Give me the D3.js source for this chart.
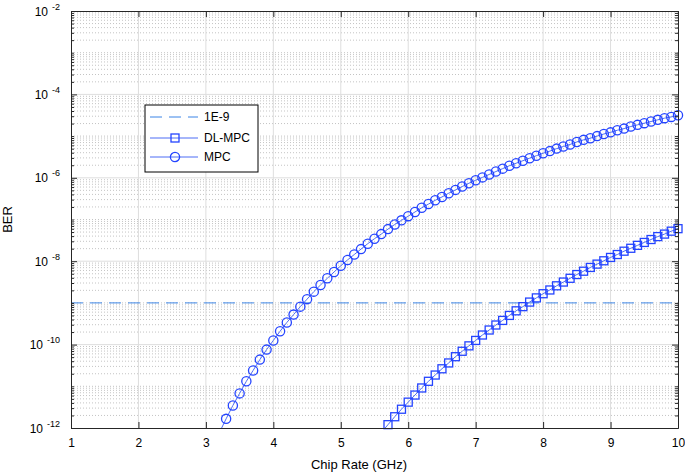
<!DOCTYPE html>
<html>
<head>
<meta charset="utf-8">
<script src="https://cdn.jsdelivr.net/npm/d3@7"></script>
<style>
  html, body { margin: 0; padding: 0; background: #fff; }
  svg { display: block; font-family: "Liberation Sans", Arial, sans-serif; }
</style>
</head>
<body>
<div id="chart"></div>
<script>
// chip rate (GHz) for each curve
const mpcRate = [3.2, 3.3, 3.4, 3.5, 3.6, 3.7, 3.8, 3.9,
  4.0, 4.1, 4.2, 4.3, 4.4, 4.5, 4.6, 4.7, 4.8, 4.9,
  5.0, 5.1, 5.2, 5.3, 5.4, 5.5, 5.6, 5.7, 5.8, 5.9,
  6.0, 6.1, 6.2, 6.3, 6.4, 6.5, 6.6, 6.7, 6.8, 6.9,
  7.0, 7.1, 7.2, 7.3, 7.4, 7.5, 7.6, 7.7, 7.8, 7.9,
  8.0, 8.1, 8.2, 8.3, 8.4, 8.5, 8.6, 8.7, 8.8, 8.9,
  9.0, 9.1, 9.2, 9.3, 9.4, 9.5, 9.6, 9.7, 9.8, 9.9, 10.0];
// log10(BER)
const mpcLogBER = [-12.11, -11.78, -11.46, -11.17, -10.88, -10.62, -10.36, -10.12,
  -9.90, -9.68, -9.47, -9.28, -9.09, -8.91, -8.73, -8.57, -8.41, -8.26,
  -8.11, -7.97, -7.84, -7.71, -7.58, -7.46, -7.35, -7.23, -7.12, -7.02,
  -6.92, -6.82, -6.72, -6.63, -6.54, -6.46, -6.37, -6.29, -6.21, -6.13,
  -6.06, -5.99, -5.92, -5.85, -5.78, -5.71, -5.65, -5.59, -5.53, -5.47,
  -5.41, -5.36, -5.30, -5.25, -5.20, -5.14, -5.09, -5.05, -5.00, -4.95,
  -4.91, -4.86, -4.82, -4.77, -4.73, -4.69, -4.65, -4.61, -4.57, -4.54, -4.50];

const dlRate = [5.6, 5.7, 5.8, 5.9,
  6.0, 6.1, 6.2, 6.3, 6.4, 6.5, 6.6, 6.7, 6.8, 6.9,
  7.0, 7.1, 7.2, 7.3, 7.4, 7.5, 7.6, 7.7, 7.8, 7.9,
  8.0, 8.1, 8.2, 8.3, 8.4, 8.5, 8.6, 8.7, 8.8, 8.9,
  9.0, 9.1, 9.2, 9.3, 9.4, 9.5, 9.6, 9.7, 9.8, 9.9, 10.0];
const dlLogBER = [-12.11, -11.92, -11.73, -11.55,
  -11.38, -11.21, -11.04, -10.88, -10.73, -10.58, -10.44, -10.29, -10.16, -10.03,
  -9.90, -9.77, -9.65, -9.53, -9.42, -9.30, -9.19, -9.09, -8.98, -8.88,
  -8.78, -8.69, -8.59, -8.50, -8.41, -8.32, -8.24, -8.15, -8.07, -7.99,
  -7.91, -7.84, -7.76, -7.69, -7.62, -7.55, -7.48, -7.41, -7.35, -7.28, -7.22];

const thresholdBER = 1e-9;
const xTicks = [1, 2, 3, 4, 5, 6, 7, 8, 9, 10];
const yTickExps = [-2, -4, -6, -8, -10, -12];
const legendLabels = ["1E-9", "DL-MPC", "MPC"];

const W = 685, H = 476;
const margin = { top: 11, right: 7, bottom: 48, left: 71 };
const lineBlue = "#4c6cf5", markBlue = "#2444ff", dashBlue = "#3b84e6";

const svg = d3.select("#chart").append("svg")
  .attr("width", W).attr("height", H);

const x = d3.scaleLinear().domain([1, 10]).range([margin.left, W - margin.right]);
const y = d3.scaleLog().domain([1e-12, 1e-2]).range([H - margin.bottom, margin.top]);

// minor positions: every k*10^e, skipping the labelled decades
const minorY = [];
for (let e = -12; e < -2; e++) {
  for (let k = 1; k <= 9; k++) {
    const v = k * Math.pow(10, e);
    if (k === 1 && e % 2 === 0) continue;
    minorY.push(v);
  }
}
const majorY = yTickExps.map(e => Math.pow(10, e));

// grid
const grid = svg.append("g");
grid.selectAll(".ymin").data(minorY).join("line")
  .attr("x1", x(1)).attr("x2", x(10))
  .attr("y1", d => y(d)).attr("y2", d => y(d))
  .attr("stroke", "#c4c4c4").attr("stroke-width", 1)
  .attr("stroke-dasharray", "1,2");
grid.selectAll(".ymaj").data(majorY.slice(1, -1)).join("line")
  .attr("x1", x(1)).attr("x2", x(10))
  .attr("y1", d => y(d)).attr("y2", d => y(d))
  .attr("stroke", "#dedede").attr("stroke-width", 1);
grid.selectAll(".xmaj").data(xTicks.slice(1, -1)).join("line")
  .attr("x1", d => x(d)).attr("x2", d => x(d))
  .attr("y1", y(1e-12)).attr("y2", y(1e-2))
  .attr("stroke", "#dedede").attr("stroke-width", 1);

// 1E-9 threshold
svg.append("line")
  .attr("x1", x(1)).attr("x2", x(10))
  .attr("y1", y(thresholdBER)).attr("y2", y(thresholdBER))
  .attr("stroke", dashBlue).attr("stroke-width", 1)
  .attr("stroke-dasharray", "12,7");

// curves
svg.append("clipPath").attr("id", "plotClip").append("rect")
  .attr("x", x(1)).attr("y", y(1e-2))
  .attr("width", x(10) - x(1)).attr("height", y(1e-12) - y(1e-2));

const mpc = mpcRate.map((r, i) => ({ r, v: Math.pow(10, mpcLogBER[i]) }));
const dl = dlRate.map((r, i) => ({ r, v: Math.pow(10, dlLogBER[i]) }));
const line = d3.line().x(d => x(d.r)).y(d => y(d.v));

[mpc, dl].forEach(s => {
  svg.append("path").datum(s)
    .attr("clip-path", "url(#plotClip)")
    .attr("fill", "none").attr("stroke", lineBlue).attr("stroke-width", 1)
    .attr("d", line);
});

svg.append("g").selectAll("circle")
  .data(mpc.filter(d => d.v >= 1e-12)).join("circle")
  .attr("cx", d => x(d.r)).attr("cy", d => y(d.v)).attr("r", 4.6)
  .attr("fill", "none").attr("stroke", markBlue).attr("stroke-width", 1.3);

svg.append("g").selectAll("rect")
  .data(dl.filter(d => d.v >= 1e-12)).join("rect")
  .attr("x", d => x(d.r) - 4).attr("y", d => y(d.v) - 4)
  .attr("width", 8).attr("height", 8)
  .attr("fill", "none").attr("stroke", markBlue).attr("stroke-width", 1.3);

// axes box and ticks
const axisColor = "#262626";
const xAxisB = svg.append("g")
  .attr("transform", `translate(0,${y(1e-12)})`)
  .call(d3.axisBottom(x).tickValues(xTicks).tickSizeInner(-6).tickSizeOuter(0).tickPadding(10));
const xAxisT = svg.append("g")
  .attr("transform", `translate(0,${y(1e-2)})`)
  .call(d3.axisTop(x).tickValues(xTicks).tickSizeInner(-6).tickSizeOuter(0).tickFormat(""));
const yAxisL = svg.append("g")
  .attr("transform", `translate(${x(1)},0)`)
  .call(d3.axisLeft(y).tickValues(majorY).tickSizeInner(-6).tickSizeOuter(0).tickFormat(""));
const yAxisR = svg.append("g")
  .attr("transform", `translate(${x(10)},0)`)
  .call(d3.axisRight(y).tickValues(majorY).tickSizeInner(-6).tickSizeOuter(0).tickFormat(""));
const yMinL = svg.append("g")
  .attr("transform", `translate(${x(1)},0)`)
  .call(d3.axisLeft(y).tickValues(minorY).tickSizeInner(-3).tickSizeOuter(0).tickFormat(""));
const yMinR = svg.append("g")
  .attr("transform", `translate(${x(10)},0)`)
  .call(d3.axisRight(y).tickValues(minorY).tickSizeInner(-3).tickSizeOuter(0).tickFormat(""));

[xAxisB, xAxisT, yAxisL, yAxisR, yMinL, yMinR].forEach(a => {
  a.select(".domain").attr("stroke", axisColor);
  a.selectAll(".tick line").attr("stroke", axisColor);
});
xAxisB.selectAll(".tick text")
  .attr("fill", "#000").attr("font-size", 12)
  .attr("font-family", "Liberation Sans, Arial, sans-serif");

// y labels as 10^e
const yl = svg.append("g").attr("font-size", 12).attr("fill", "#000");
yTickExps.forEach(e => {
  const t = yl.append("text")
    .attr("x", 60).attr("y", y(Math.pow(10, e)) + 4.5)
    .attr("text-anchor", "end");
  t.append("tspan").text("10");
  t.append("tspan").attr("dx", 4).attr("dy", -6).attr("font-size", 9).text(String(e).replace("-", "-"));
});

// axis titles
svg.append("text")
  .attr("x", 359).attr("y", 469)
  .attr("text-anchor", "middle").attr("font-size", 13).attr("fill", "#000")
  .text("Chip Rate (GHz)");
svg.append("text")
  .attr("transform", `translate(12,${(y(1e-12) + y(1e-2)) / 2}) rotate(-90)`)
  .attr("text-anchor", "middle").attr("font-size", 13).attr("fill", "#000")
  .text("BER");

// legend
const lg = svg.append("g").attr("transform", "translate(145,105)");
lg.append("rect").attr("width", 113).attr("height", 67)
  .attr("fill", "#fff").attr("stroke", "#000").attr("stroke-width", 1);
const rowY = [12, 33, 52];
legendLabels.forEach((lab, i) => {
  const g = lg.append("g").attr("transform", `translate(0,${rowY[i]})`);
  g.append("line").attr("x1", 5).attr("x2", 53).attr("y1", 0).attr("y2", 0)
    .attr("stroke", i === 0 ? dashBlue : lineBlue).attr("stroke-width", 1)
    .attr("stroke-dasharray", i === 0 ? "12,7" : null);
  if (i === 1) {
    g.append("rect").attr("x", 26).attr("y", -4).attr("width", 8).attr("height", 8)
      .attr("fill", "none").attr("stroke", markBlue).attr("stroke-width", 1.3);
  } else if (i === 2) {
    g.append("circle").attr("cx", 30).attr("cy", 0).attr("r", 4.6)
      .attr("fill", "none").attr("stroke", markBlue).attr("stroke-width", 1.3);
  }
  g.append("text").attr("x", 59).attr("y", 0).attr("dy", "0.35em")
    .attr("font-size", 12).attr("fill", "#000").text(lab);
});
</script>
</body>
</html>
